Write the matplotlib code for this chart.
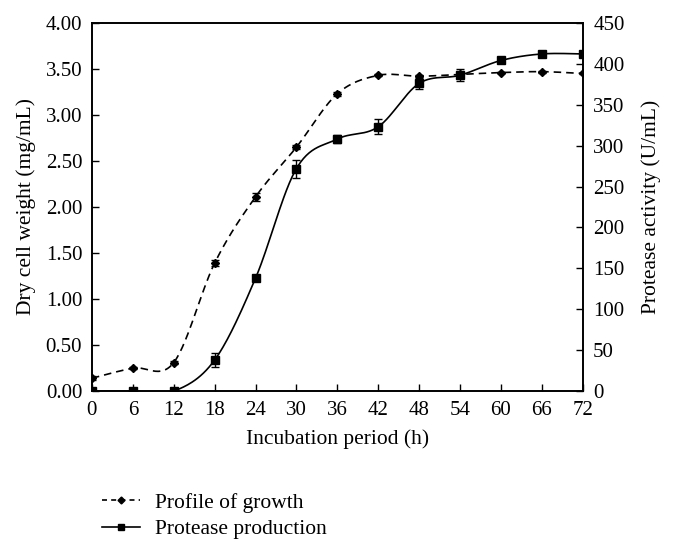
import numpy as np
import matplotlib
matplotlib.use("Agg")
import matplotlib.pyplot as plt
from matplotlib.lines import Line2D

plt.rcParams['font.family'] = ['Liberation Serif', 'DejaVu Serif']

hours = [0, 6, 12, 18, 24, 30, 36, 42, 48, 54, 60, 66, 72]
growth = [0.14, 0.25, 0.31, 1.39, 2.11, 2.65, 3.23, 3.43, 3.42, 3.44, 3.46, 3.47, 3.45]
growth_err = [0.02, 0.01, 0.02, 0.03, 0.04, 0.02, 0.02, 0.01, 0.01, 0.01, 0.01, 0.01, 0.01]
protease = [0, 0, 0, 38, 138, 272, 308, 323, 376, 386, 404, 412, 412]
protease_err = [2, 1, 2, 8, 4, 11, 5, 9, 7, 7, 3, 4, 3]
x_ticks = list(range(0, 73, 6))
left_ticks = [0, 0.5, 1.0, 1.5, 2.0, 2.5, 3.0, 3.5, 4.0]
right_ticks = list(range(0, 451, 50))


def smooth_curve(x, y, n=30):
    x = np.asarray(x, float)
    y = np.asarray(y, float)
    px = np.concatenate([[x[0]], x, [x[-1]]])
    py = np.concatenate([[y[0]], y, [y[-1]]])
    xs, ys = [], []
    t = np.linspace(0, 1, n)
    for i in range(1, len(px) - 2):
        p0x, p1x, p2x, p3x = px[i - 1], px[i], px[i + 1], px[i + 2]
        p0y, p1y, p2y, p3y = py[i - 1], py[i], py[i + 1], py[i + 2]
        c1x = p1x + (p2x - p0x) / 6
        c1y = p1y + (p2y - p0y) / 6
        c2x = p2x - (p3x - p1x) / 6
        c2y = p2y - (p3y - p1y) / 6
        bx = (1 - t) ** 3 * p1x + 3 * (1 - t) ** 2 * t * c1x + 3 * (1 - t) * t ** 2 * c2x + t ** 3 * p2x
        by = (1 - t) ** 3 * p1y + 3 * (1 - t) ** 2 * t * c1y + 3 * (1 - t) * t ** 2 * c2y + t ** 3 * p2y
        xs.append(bx)
        ys.append(by)
    return np.concatenate(xs), np.concatenate(ys)


fig = plt.figure(figsize=(6.76, 5.44), dpi=100)
ax = fig.add_axes([0.136, 0.281, 0.726, 0.677])
ax2 = ax.twinx()

sx, sy = smooth_curve(hours, growth)
ax.plot(sx, sy, color='black', lw=1.2, ls=(0, (4.5, 3)))
ax.errorbar(hours, growth, yerr=growth_err, fmt='D', color='black', ms=4,
            capsize=3, elinewidth=1, capthick=1)

sx2, sy2 = smooth_curve(hours, protease)
ax2.plot(sx2, sy2, color='black', lw=1.2)
ax2.errorbar(hours, protease, yerr=protease_err, fmt='s', color='black', ms=5.5,
             capsize=3, elinewidth=1, capthick=1)

ax.set_xlim(0, 72)
ax.set_ylim(0, 4.0)
ax2.set_ylim(0, 450)
ax.set_xticks(x_ticks)
ax.set_yticks(left_ticks)
ax.set_yticklabels([f"{v:.2f}" for v in left_ticks])
ax2.set_yticks(right_ticks)

for a in (ax, ax2):
    a.tick_params(direction='in', length=5, width=1, labelsize=15, colors='black')
    for s in a.spines.values():
        s.set_linewidth(1.2)
ax.tick_params(axis='x', pad=7)
ax.tick_params(axis='y', pad=7)
ax2.tick_params(axis='y', pad=7.5)

ax.set_xlabel("Incubation period (h)", fontsize=15.5, labelpad=7)
ax.set_ylabel("Dry cell weight (mg/mL)", fontsize=15.5, labelpad=7)
ax2.set_ylabel("Protease activity (U/mL)", fontsize=15.5, labelpad=12)

h1 = Line2D([], [], color='black', lw=1.2, ls=(0, (3, 2.5)), marker='D', ms=3.5)
h2 = Line2D([], [], color='black', lw=1.2, marker='s', ms=5)
fig.legend([h1, h2], ["Profile of growth", "Protease production"],
           loc='upper left', bbox_to_anchor=(0.122, 0.13), frameon=False,
           fontsize=15.5, handlelength=1.75, handletextpad=0.7, labelspacing=0.3,
           borderpad=0.4)

fig.savefig("out.png", dpi=100)
